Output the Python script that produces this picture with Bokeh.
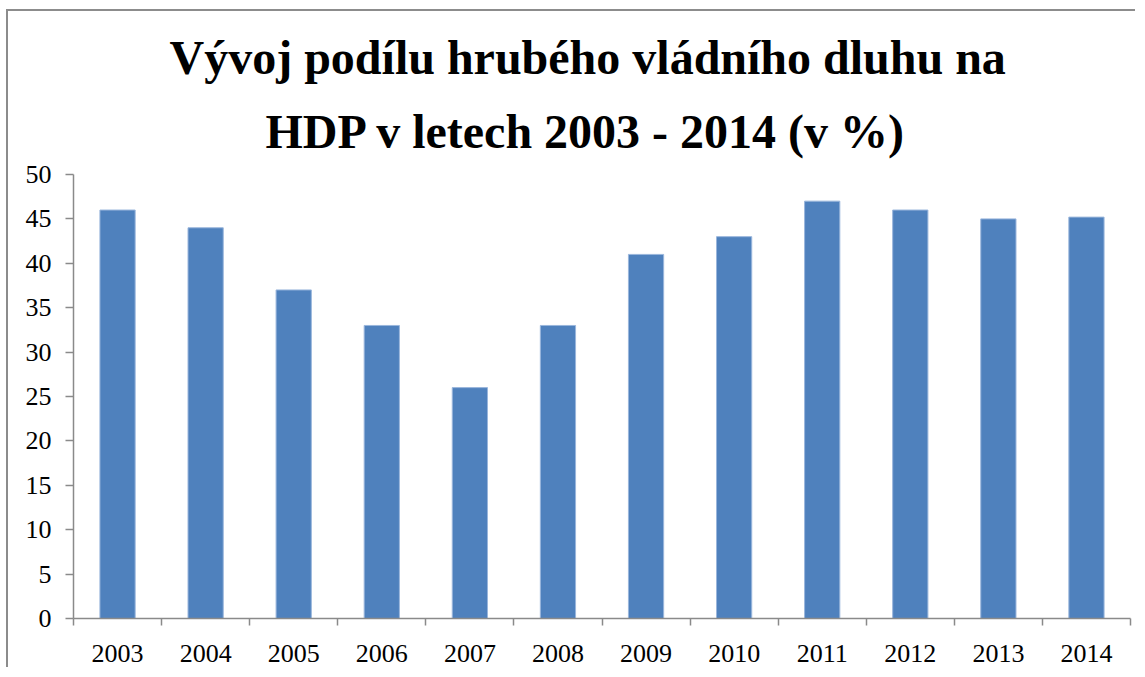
from bokeh.plotting import figure
from bokeh.models import Range1d, FixedTicker, Title, LinearAxis
from bokeh.embed import file_html
from bokeh.resources import INLINE

years = ["2003", "2004", "2005", "2006", "2007", "2008", "2009", "2010", "2011", "2012", "2013", "2014"]
debt = [46, 44, 37, 33, 26, 33, 41, 43, 47, 46, 45, 45.2]
y_ticks = [0, 5, 10, 15, 20, 25, 30, 35, 40, 45, 50]
title_lines = ["Vývoj podílu hrubého vládního dluhu na", "HDP v letech 2003 - 2014 (v %)"]

FONT = "Liberation Serif"
GRAY = "#8a8a8a"

xs = [i + 0.5 for i in range(len(years))]

p = figure(width=1129, height=658, output_backend="svg", toolbar_location=None,
           x_range=Range1d(0, len(years)), y_range=Range1d(0, 50),
           x_axis_type=None, y_axis_type=None, title=None,
           min_border_left=65, min_border_right=7, min_border_bottom=51, min_border_top=163)
p.styles = {"border-top": "2px solid #8c8c8c", "border-left": "2px solid #8c8c8c",
            "margin-left": "6px", "margin-top": "9px"}
p.outline_line_color = None
p.background_fill_color = "white"
p.border_fill_color = "white"

p.vbar(x=xs, top=debt, width=0.4, bottom=0, fill_color="#4f81bd", line_color="#9ab6dc", line_width=1)

# y axis
ya = LinearAxis(ticker=FixedTicker(ticks=y_ticks))
ya.axis_line_color = GRAY
ya.axis_line_width = 1.5
ya.major_tick_line_color = GRAY
ya.major_tick_line_width = 1.5
ya.major_tick_out = 8
ya.major_tick_in = 0
ya.minor_tick_line_color = None
ya.major_label_text_font = FONT
ya.major_label_text_font_size = "26px"
ya.major_label_text_color = "black"
ya.major_label_standoff = 14
p.add_layout(ya, "left")

# x axis: labels at category centres, ticks at boundaries
xa = LinearAxis(ticker=FixedTicker(ticks=xs, minor_ticks=list(range(len(years) + 1))))
xa.major_label_overrides = {x: y for x, y in zip(xs, years)}
xa.axis_line_color = GRAY
xa.axis_line_width = 1.5
xa.major_tick_line_color = None
xa.minor_tick_line_color = GRAY
xa.minor_tick_line_width = 1.5
xa.minor_tick_out = 7
xa.minor_tick_in = 0
xa.major_label_text_font = FONT
xa.major_label_text_font_size = "26px"
xa.major_label_text_color = "black"
xa.major_label_standoff = 19
p.add_layout(xa, "below")

p.ygrid.ticker = FixedTicker(ticks=y_ticks)
p.ygrid.grid_line_color = GRAY
p.ygrid.grid_line_width = 1.5
p.xgrid.grid_line_color = None

title_offsets = [96, 192]
title_standoffs = [5, 33]
for line, off, so in reversed(list(zip(title_lines, title_offsets, title_standoffs))):
    t = Title(text=line, align="left", text_font=FONT, text_font_size="48px",
              text_font_style="bold", text_color="black", offset=off, standoff=so)
    p.add_layout(t, "above")

open("out.html", "w").write(file_html(p, INLINE))
